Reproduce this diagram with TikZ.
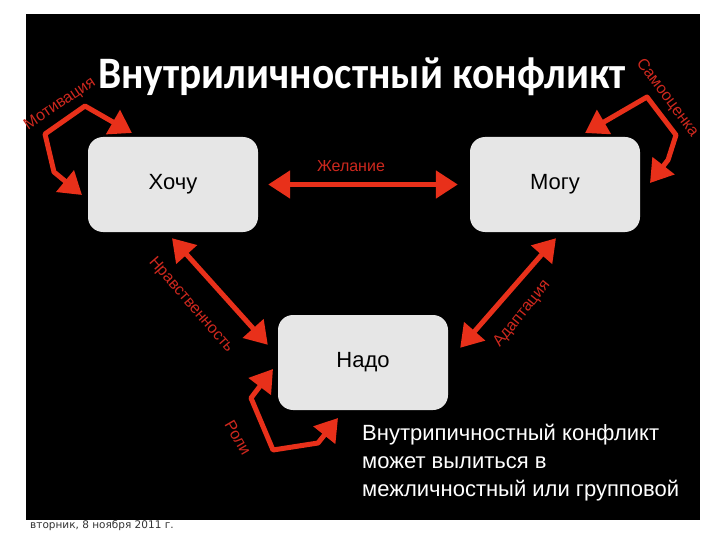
\documentclass[tikz,border=0pt]{standalone}
\usepackage{fontspec}
\setmainfont{Liberation Sans}
\newfontfamily\titlefont{Carlito}
\newfontfamily\datefont{DejaVu Sans}
\usetikzlibrary{arrows.meta}
\definecolor{arrowred}{RGB}{232,48,26}
\definecolor{labelred}{RGB}{205,40,30}
\definecolor{boxgray}{RGB}{230,230,230}
\tikzset{
  box/.style={draw=none, fill=boxgray, rounded corners=15pt, minimum width=170pt, minimum height=95pt, inner sep=0pt, font=\fontsize{22}{24}\selectfont},
  redline/.style={draw=arrowred, line width=5pt, line join=round, line cap=round},
  dblarrow/.style={redline, {Triangle[length=22pt,width=27pt]}-{Triangle[length=22pt,width=27pt]}},
  lbl/.style={text=labelred, font=\fontsize{16}{18}\selectfont, inner sep=0pt},
  notetext/.style={text=white, anchor=base west, inner sep=0pt, font=\fontsize{22}{24}\selectfont}
}
\begin{document}
\begin{tikzpicture}[x=1pt,y=-1pt]
\useasboundingbox (0,0) rectangle (720,540);
\fill[white] (0,0) rectangle (720,540);
\fill[black] (26,14) rectangle (700,520);
% title
\node[text=white, font=\titlefont\bfseries\fontsize{45}{48}\selectfont, anchor=base, inner sep=0pt, xscale=0.92, transform shape] (title) at (362,89) {Внутриличностный конфликт};
% boxes
\node[box] (hochu) at (173,184.5) {Хочу};
\node[box] (mogu) at (555,184.5) {Могу};
\node[box] (nado) at (363,362.5) {Надо};
% Желание
\draw[dblarrow, shorten <=10pt, shorten >=12pt] (hochu.east) -- (mogu.west);
\node[lbl] (lzh) at (351,166) {Желание};
% Нравственность
\draw[dblarrow] ([shift={(-1,6)}]hochu.south) -- ([shift={(-10,30)}]nado.north west);
\node[lbl, rotate=-49] (lnr) at (191,305) {Нравственность};
% Адаптация
\draw[dblarrow] ([shift={(1,6)}]mogu.south) -- ([shift={(12,33)}]nado.north east);
\node[lbl, rotate=51] (lad) at (522,314) {Адаптация};
% Роли
\coordinate (r0) at (273,369);
\coordinate (r1) at (251,398);
\coordinate (r2) at (273,450);
\coordinate (r3) at (318,443);
\coordinate (r4) at (338,418);
\draw[dblarrow] (r0) -- (r1) -- (r2) -- (r3) -- (r4);
\node[lbl, rotate=-60] (lro) at (238,438) {Роли};
% Мотивация
\coordinate (m0) at (132,133);
\coordinate (m1) at (85,106);
\coordinate (m2) at (45,134);
\coordinate (m3) at (54,172);
\coordinate (m4) at (82,195);
\draw[dblarrow] (m0) -- (m1) -- (m2) -- (m3) -- (m4);
\node[lbl, rotate=34] (lmo) at (60,104) {Мотивация};
% Самооценка
\coordinate (s0) at (585,133);
\coordinate (s1) at (647,97);
\coordinate (s2) at (676,135);
\coordinate (s3) at (668,160);
\coordinate (s4) at (650,183);
\draw[dblarrow] (s0) -- (s1) -- (s2) -- (s3) -- (s4);
\node[lbl, rotate=-53] (lsa) at (667,98) {Самооценка};
% bottom text
\node[notetext] (note1) at (362,440) {Внутрипичностный конфликт};
\node[notetext] (note2) at (362,468) {может вылиться в};
\node[notetext] (note3) at (362,496) {межличностный или групповой};
% date
\node[text=black!80, anchor=base west, inner sep=0pt, font=\datefont\fontsize{10.5}{12}\selectfont] (date) at (30,528) {вторник, 8 ноября 2011 г.};
\end{tikzpicture}
\end{document}
